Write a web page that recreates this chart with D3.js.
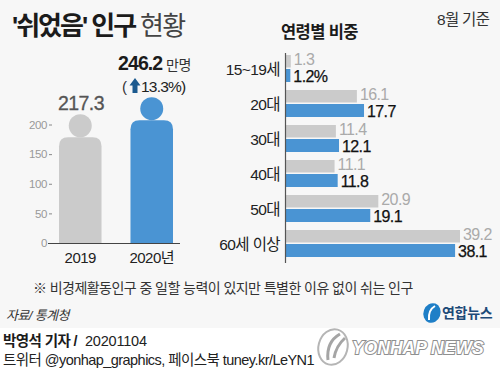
<!DOCTYPE html>
<html>
<head>
<meta charset="utf-8">
<script src="https://cdn.jsdelivr.net/npm/d3@7"></script>
<style>
  html, body { margin: 0; padding: 0; background: #fff; }
  svg { display: block; }
  text { font-family: "Liberation Sans", "Noto Sans CJK KR", sans-serif; }
</style>
</head>
<body>
<div id="chart"></div>
<script>
// left chart
const years = ["2019", "2020년"];
const totals = [217.3, 246.2];
const totalTicks = [0, 50, 100, 150, 200];

// right chart
const ageGroups = ["15~19세", "20대", "30대", "40대", "50대", "60세 이상"];
const share2019 = [1.3, 16.1, 11.4, 11.1, 20.9, 39.2];
const share2020 = [1.2, 17.7, 12.1, 11.8, 19.1, 38.1];

const width = 500, height = 377;
const GRAY = "#cbcbcb", BLUE = "#4a94d3", DARK = "#222";
const FONT = '"Liberation Sans", "Noto Sans CJK KR", sans-serif';

const svg = d3.select("#chart").append("svg")
  .attr("width", width).attr("height", height);

svg.append("rect").attr("width", width).attr("height", 328).attr("fill", "#f7f7f7");

function label(x, y, str, size, opts = {}) {
  return svg.append("text")
    .attr("x", x).attr("y", y)
    .attr("text-anchor", opts.anchor || "start")
    .attr("fill", opts.fill || DARK)
    .attr("font-weight", opts.weight || 400)
    .attr("font-style", opts.style || "normal")
    .attr("letter-spacing", opts.spacing || 0)
    .style("font-size", size + "px")
    .text(str);
}

// title
label(12, 35, "'쉬었음' 인구", 26, {weight: 700, fill: "#1b1b1b", spacing: -2});
label(140, 35, "현황", 26, {fill: "#444", spacing: -1.6});
label(437, 25, "8월 기준", 15.5, {fill: "#333", spacing: -0.7});
label(281, 38, "연령별 비중", 16.5, {weight: 700, fill: "#1b1b1b", spacing: -0.6});

// --- person bars
const yLeft = d3.scaleLinear().domain([0, 200]).range([243, 124.5]);
const xLeft = d3.scaleBand().domain(years).range([59, 173]).paddingInner(0.405).paddingOuter(0);

const leftAxis = svg.append("g")
  .attr("transform", "translate(52,0)")
  .call(d3.axisLeft(yLeft).tickValues(totalTicks).tickSize(3).tickPadding(2));
leftAxis.select(".domain").remove();
leftAxis.selectAll("line").attr("stroke", "#888");
leftAxis.selectAll("text").attr("fill", "#999").attr("letter-spacing", -0.4)
  .attr("font-family", FONT).style("font-size", "11.5px");

const people = svg.append("g").selectAll("g")
  .data(years.map((year, i) => ({year, value: totals[i], color: i ? BLUE : GRAY})))
  .join("g");

// body
people.append("path")
  .attr("fill", d => d.color)
  .attr("d", d => {
    const x0 = xLeft(d.year), x1 = x0 + xLeft.bandwidth();
    const top = yLeft(d.value) + 23, r = 9;
    return `M${x0},${yLeft(0)}V${top + r}Q${x0},${top} ${x0 + r},${top}H${x1 - r}Q${x1},${top} ${x1},${top + r}V${yLeft(0)}Z`;
  });
// head
people.append("circle")
  .attr("fill", d => d.color)
  .attr("cx", d => xLeft(d.year) + xLeft.bandwidth() / 2)
  .attr("cy", d => yLeft(d.value) + 11.5)
  .attr("r", 11.5);

svg.append("line").attr("x1", 48).attr("x2", 180).attr("y1", 243.5).attr("y2", 243.5)
  .attr("stroke", "#444").attr("stroke-width", 1.2);

years.forEach(y => {
  label(xLeft(y) + xLeft.bandwidth() / 2, 263, y, 15, {anchor: "middle", fill: "#222", spacing: -0.5});
});

label(81, 110, "217.3", 19.5, {anchor: "middle", fill: "#555", spacing: -0.6})
  .attr("stroke", "#555").attr("stroke-width", 0.3);
label(118, 70, "246.2", 19.5, {weight: 700, fill: "#1b1b1b", spacing: -0.9});
label(166, 70, "만명", 14, {fill: "#333", spacing: -0.5});
label(122, 92, "(", 15, {fill: "#333"});
label(141, 92, "13.3%)", 15.5, {fill: "#222", spacing: -0.8});
svg.append("path").attr("fill", "#1c5a8f")
  .attr("d", "M135,78L140.5,85.5H137.5V93H132.5V85.5H129.5Z");

// --- age bars
const yRight = d3.scaleBand().domain(ageGroups).range([52.5, 262.5]);
const xRight = d3.scaleLinear().domain([0, 39.2]).range([285, 460]);
const rows = ageGroups.map((age, i) => ({age, a: share2019[i], b: share2020[i]}));

svg.append("g").selectAll("rect").data(rows).join("rect")
  .attr("x", xRight(0)).attr("y", d => yRight(d.age) + 2.5)
  .attr("width", d => xRight(d.a) - xRight(0)).attr("height", 12.5)
  .attr("fill", GRAY);
svg.append("g").selectAll("rect").data(rows).join("rect")
  .attr("x", xRight(0)).attr("y", d => yRight(d.age) + 16.5)
  .attr("width", d => xRight(d.b) - xRight(0)).attr("height", 13)
  .attr("fill", BLUE);

const rightAxis = svg.append("g")
  .attr("transform", `translate(${xRight(0)},0)`)
  .call(d3.axisLeft(yRight).tickSize(0).tickPadding(5));
rightAxis.select(".domain").attr("stroke", "#555").attr("stroke-width", 1.2);
rightAxis.selectAll("text").attr("fill", "#222")
  .attr("letter-spacing", -0.6)
  .attr("font-family", FONT)
  .style("font-size", "15.5px");

svg.append("g").selectAll("text").data(rows).join("text")
  .attr("x", d => xRight(d.a) + 3).attr("y", d => yRight(d.age) + 12.8)
  .attr("fill", "#aaa").attr("letter-spacing", -0.6)
  .style("font-size", "16px").text(d => d.a);
svg.append("g").selectAll("text").data(rows).join("text")
  .attr("x", d => xRight(d.b) + 3).attr("y", d => yRight(d.age) + 29.5)
  .attr("fill", "#111").attr("letter-spacing", -0.6)
  .attr("stroke", "#111").attr("stroke-width", 0.25)
  .style("font-size", "16px").text((d, i) => i === 0 ? d.b + "%" : d.b);

// --- notes
label(33, 293, "※ 비경제활동인구 중 일할 능력이 있지만 특별한 이유 없이 쉬는 인구", 14, {fill: "#333", spacing: -0.55});
label(6, 320, "자료/ 통계청", 13, {style: "italic", fill: "#333", spacing: -0.6});

// small logo
svg.append("ellipse").attr("cx", 432).attr("cy", 313).attr("rx", 8.5).attr("ry", 10)
  .attr("transform", "rotate(20 432 313)").attr("fill", "#1f7fc7");
svg.append("path").attr("d", "M435,306Q428,310 429,320").attr("fill", "none").attr("stroke", "#fff").attr("stroke-width", 2);
label(442, 318, "연합뉴스", 14, {weight: 700, fill: "#1d4a78", spacing: -0.3});

// --- footer
label(3, 346, "박영석 기자 /", 14.5, {weight: 700, fill: "#1b1b1b", spacing: -0.6});
label(85, 346, "20201104", 14.5, {fill: "#222", spacing: -0.2});
label(3, 365, "트위터 @yonhap_graphics, 페이스북 tuney.kr/LeYN1", 14.5, {fill: "#222", spacing: -0.55});

// watermark
svg.append("ellipse").attr("cx", 333).attr("cy", 347).attr("rx", 14.5).attr("ry", 18)
  .attr("transform", "rotate(15 333 347)")
  .attr("fill", "#fff").attr("stroke", "#b5b5b5").attr("stroke-width", 2);
svg.append("path").attr("d", "M340,334Q326,342 328,360M345,338Q336,346 334,358")
  .attr("fill", "none").attr("stroke", "#a5a5a5").attr("stroke-width", 3);
label(352, 354, "YONHAP NEWS", 17.5, {weight: 700, style: "italic", fill: "#fff", spacing: 0})
  .attr("stroke", "#8f8f8f").attr("stroke-width", 2).attr("paint-order", "stroke");
</script>
</body>
</html>
